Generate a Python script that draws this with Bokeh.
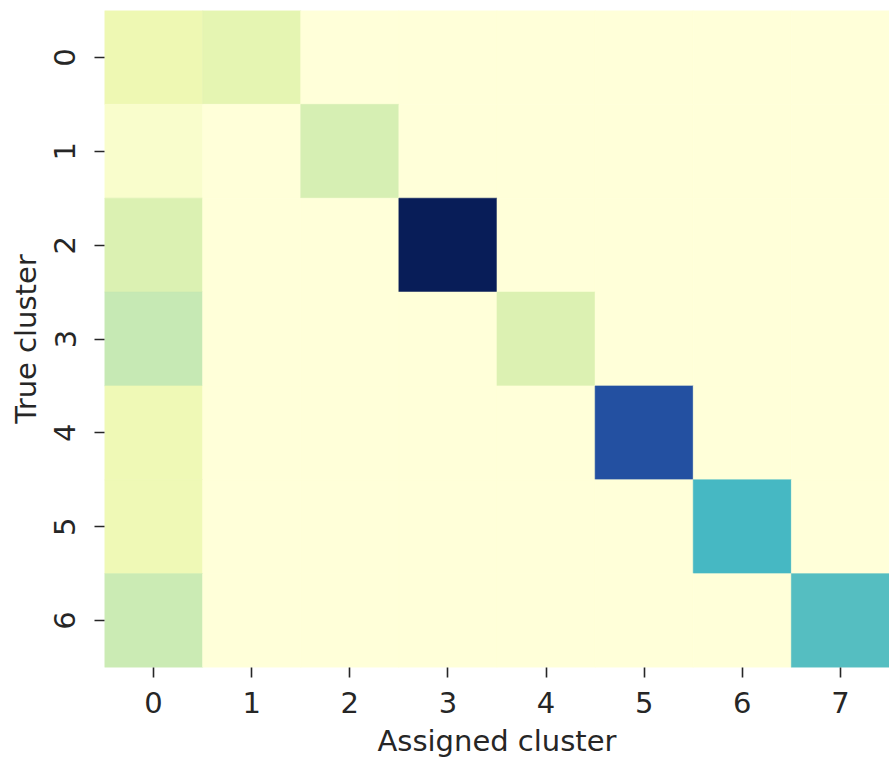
import numpy as np
from bokeh.plotting import figure
from bokeh.models import ColumnDataSource, LinearColorMapper, FixedTicker
from bokeh.transform import transform
from bokeh.embed import file_html
from bokeh.resources import INLINE

# Data: rows = true cluster, columns = assigned cluster
true_clusters = [0, 1, 2, 3, 4, 5, 6]
assigned_clusters = [0, 1, 2, 3, 4, 5, 6, 7]
row0 = [24, 31, 0, 0, 0, 0, 0, 0]
row1 = [8, 0, 40, 0, 0, 0, 0, 0]
row2 = [37, 0, 0, 200, 0, 0, 0, 0]
row3 = [50, 0, 0, 0, 36, 0, 0, 0]
row4 = [22, 0, 0, 0, 0, 158, 0, 0]
row5 = [22, 0, 0, 0, 0, 0, 98, 0]
row6 = [47, 0, 0, 0, 0, 0, 0, 92]
rows = [row0, row1, row2, row3, row4, row5, row6]

# YlGnBu anchor colours (matplotlib / ColorBrewer)
ylgnbu_anchors = ["#ffffd9", "#edf8b1", "#c7e9b4", "#7fcdbb", "#41b6c4",
                  "#1d91c0", "#225ea8", "#253494", "#081d58"]

def build_palette(anchors, n=256):
    rgb = np.array([[int(c[i:i + 2], 16) for i in (1, 3, 5)] for c in anchors], float)
    pos = np.linspace(0, 1, len(anchors))
    t = np.linspace(0, 1, n)
    out = []
    for tt in t:
        r = np.interp(tt, pos, rgb[:, 0])
        g = np.interp(tt, pos, rgb[:, 1])
        b = np.interp(tt, pos, rgb[:, 2])
        out.append("#%02x%02x%02x" % (int(round(r)), int(round(g)), int(round(b))))
    return out

palette = build_palette(ylgnbu_anchors)

xs, ys, vals = [], [], []
for yi, row in zip(true_clusters, rows):
    for xi, v in zip(assigned_clusters, row):
        xs.append(xi)
        ys.append(yi)
        vals.append(v)

src = ColumnDataSource(dict(x=xs, y=ys, v=vals))
all_vals = [v for r in rows for v in r]
mapper = LinearColorMapper(palette=palette, low=min(all_vals), high=max(all_vals))

p = figure(width=889, height=760, output_backend="svg", toolbar_location=None,
           x_range=(-0.5, len(assigned_clusters) - 0.5),
           y_range=(len(true_clusters) - 0.5, -0.5),
           min_border_left=104, min_border_right=0, min_border_top=10,
           min_border_bottom=93)

p.rect(x="x", y="y", width=1, height=1, source=src,
       fill_color=transform("v", mapper), line_color=transform("v", mapper),
       line_width=0.6)

p.outline_line_color = None
p.grid.visible = False
text_color = "#262626"
font = "DejaVu Sans"
for ax in (p.xaxis[0], p.yaxis[0]):
    ax.axis_line_color = None
    ax.minor_tick_line_color = None
    ax.major_tick_in = 0
    ax.major_tick_out = 10
    ax.major_tick_line_width = 1.6
    ax.major_tick_line_color = text_color
    ax.major_label_text_font = font
    ax.major_label_text_font_size = "29px"
    ax.major_label_text_color = text_color
    ax.axis_label_text_font = font
    ax.axis_label_text_font_size = "29px"
    ax.axis_label_text_font_style = "normal"
    ax.axis_label_text_color = text_color

p.xaxis.ticker = FixedTicker(ticks=assigned_clusters)
p.yaxis.ticker = FixedTicker(ticks=true_clusters)
p.xaxis.axis_label = "Assigned cluster"
p.yaxis.axis_label = "True cluster"
p.yaxis.major_label_orientation = "vertical"
p.xaxis.major_label_standoff = 14
p.yaxis.major_label_standoff = 19
p.xaxis.axis_label_standoff = 8
p.yaxis.axis_label_standoff = 9

open("out.html", "w").write(file_html(p, INLINE))
